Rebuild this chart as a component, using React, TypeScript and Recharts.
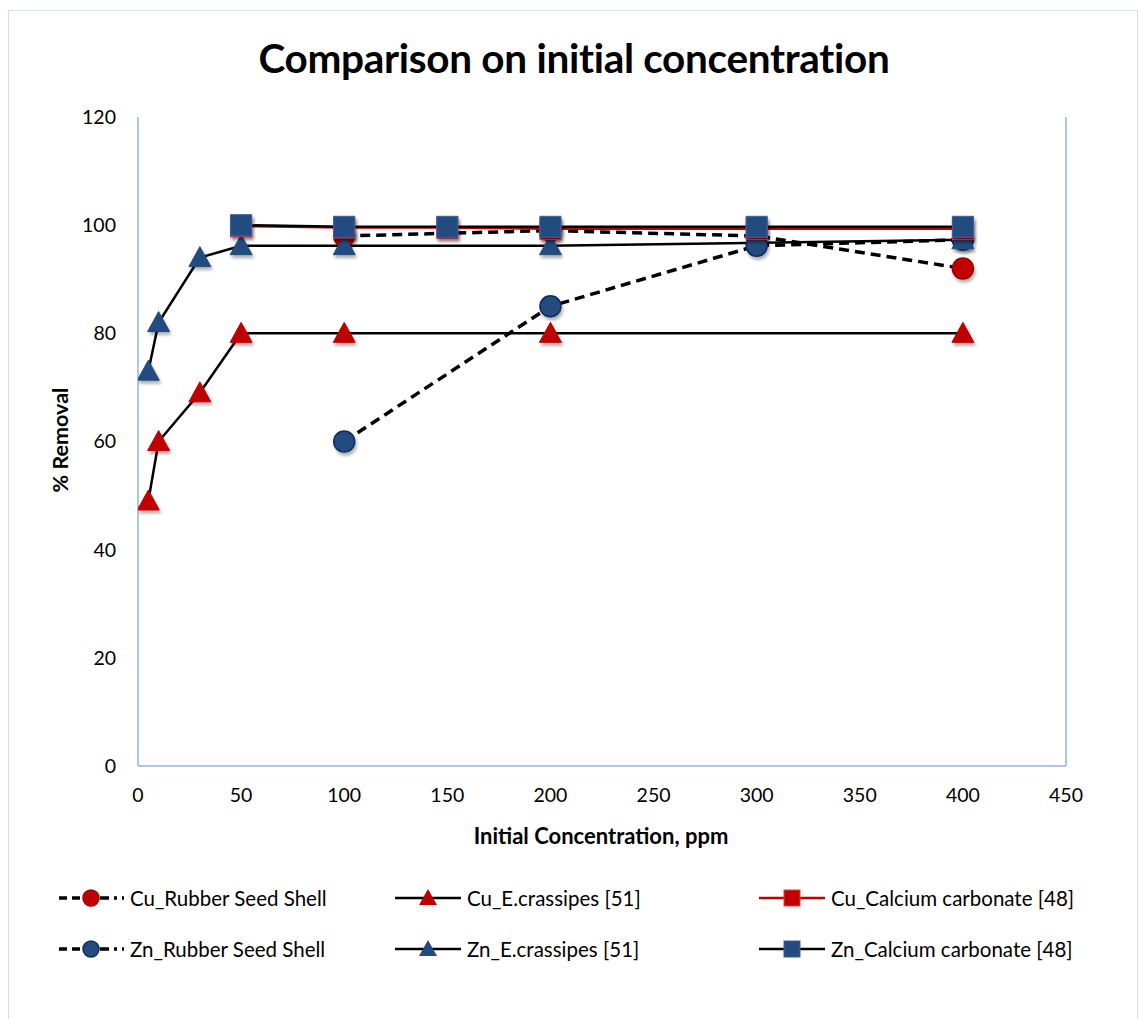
import React from "react";
import { LineChart, Line, XAxis, YAxis } from "recharts";

// x = initial concentration (ppm), y = % removal
const cuRubberX = [100, 200, 300, 400];
const cuRubberY = [98, 99, 98, 92];
const znRubberX = [100, 200, 300, 400];
const znRubberY = [60, 85, 96.2, 97.3];
const cuCrassX = [5, 10, 30, 50, 100, 200, 400];
const cuCrassY = [49, 60, 69, 80, 80, 80, 80];
const znCrassX = [5, 10, 30, 50, 100, 200, 400];
const znCrassY = [73, 82, 94, 96.2, 96.2, 96.2, 97.3];
const cuCaX = [50, 100, 150, 200, 300, 400];
const cuCaY = [99.8, 99.5, 99.5, 99.3, 99.3, 99.3];
const znCaX = [50, 100, 150, 200, 300, 400];
const znCaY = [100, 99.7, 99.7, 99.7, 99.7, 99.7];

const xTicks = [0, 50, 100, 150, 200, 250, 300, 350, 400, 450];
const yTicks = [0, 20, 40, 60, 80, 100, 120];

const RED = "#C00000";
const BLUE = "#234B80";
const BLUE_EDGE = "#0E2D5E";
const AXIS = "#8FB3E0";
const FONT = "Lato, 'Open Sans', sans-serif";

const toPoints = (xs: number[], ys: number[]) => xs.map((x, i) => ({ x, y: ys[i] }));

type Shape = "circle" | "triangle" | "square";

const marker = (shape: Shape, fill: string, stroke: string, cx: number, cy: number, key?: any) => {
  if (shape === "circle")
    return <circle key={key} cx={cx} cy={cy} r={10.5} fill={fill} stroke={stroke} strokeWidth={1.5} />;
  if (shape === "triangle")
    return (
      <polygon
        key={key}
        points={`${cx},${cy - 11} ${cx + 11},${cy + 9} ${cx - 11},${cy + 9}`}
        fill={fill}
        stroke={fill}
        strokeWidth={1}
      />
    );
  return <rect key={key} x={cx - 10.5} y={cy - 10.5} width={21} height={21} fill={fill} stroke={stroke} strokeWidth={1} />;
};

const makeDot = (shape: Shape, fill: string, stroke: string) => (props: any) => {
  const { cx, cy, index } = props;
  if (cx == null || cy == null) return <g key={`e-${index}`} />;
  return (
    <g key={`d-${index}`} filter="url(#mkShadow)">
      {marker(shape, fill, stroke, cx, cy)}
    </g>
  );
};

const series = [
  { name: "Cu_Rubber Seed Shell", data: toPoints(cuRubberX, cuRubberY), line: "#000", dash: true, shape: "circle" as Shape, fill: RED, edge: "#9A0000" },
  { name: "Zn_Rubber Seed Shell", data: toPoints(znRubberX, znRubberY), line: "#000", dash: true, shape: "circle" as Shape, fill: BLUE, edge: BLUE_EDGE },
  { name: "Cu_E.crassipes [51]", data: toPoints(cuCrassX, cuCrassY), line: "#000", dash: false, shape: "triangle" as Shape, fill: RED, edge: RED },
  { name: "Zn_E.crassipes [51]", data: toPoints(znCrassX, znCrassY), line: "#000", dash: false, shape: "triangle" as Shape, fill: BLUE, edge: BLUE },
  { name: "Cu_Calcium carbonate [48]", data: toPoints(cuCaX, cuCaY), line: RED, dash: false, shape: "square" as Shape, fill: RED, edge: "#E04040" },
  { name: "Zn_Calcium carbonate [48]", data: toPoints(znCaX, znCaY), line: "#000", dash: false, shape: "square" as Shape, fill: BLUE, edge: "#3A6298" },
];

// legend order as in the picture: row by row
const legendOrder = [0, 2, 4, 1, 3, 5];
const legendCols = [58, 395, 759];
const legendRows = [898, 949];

function LegendIcon({ s }: { s: (typeof series)[number] }) {
  return (
    <svg width={66} height={24} style={{ display: "block" }}>
      {s.dash ? (
        <>
          <line x1={1} y1={12} x2={24} y2={12} stroke="#000" strokeWidth={3.5} strokeDasharray="8 5" />
          <line x1={42} y1={12} x2={66} y2={12} stroke="#000" strokeWidth={3.5} strokeDasharray="9 5 3 5" />
        </>
      ) : (
        <line x1={0} y1={12} x2={66} y2={12} stroke={s.line} strokeWidth={2.5} />
      )}
      {s.shape === "circle" && <circle cx={33} cy={12} r={8} fill={s.fill} stroke={s.edge} strokeWidth={1.5} />}
      {s.shape === "triangle" && <polygon points="33,3 42,19 24,19" fill={s.fill} />}
      {s.shape === "square" && <rect x={25} y={4} width={16} height={16} fill={s.fill} stroke={s.edge} strokeWidth={1} />}
    </svg>
  );
}

export default function App() {
  return (
    <div style={{ position: "absolute", left: 0, top: 0, width: 1140, height: 1019, background: "#fff", fontFamily: FONT }}>
      <div
        style={{
          position: "absolute",
          left: 8,
          top: 10,
          width: 1130,
          height: 1020,
          border: "1.5px solid #D5E0EF",
          boxSizing: "border-box",
        }}
      />
      <div
        style={{
          position: "absolute",
          left: 0,
          width: 1148,
          top: 33,
          textAlign: "center",
          fontSize: 40.5,
          fontWeight: 700,
          color: "#000",
          letterSpacing: -0.3,
        }}
      >
        Comparison on initial concentration
      </div>
      <div style={{ position: "absolute", left: 0, top: 0 }}>
        <LineChart width={1140} height={1019} margin={{ top: 117, left: 78, right: 14, bottom: 223 }}>
          <defs>
            <filter id="mkShadow" x="-50%" y="-50%" width="200%" height="200%">
              <feDropShadow dx={1.5} dy={3} stdDeviation={1.8} floodColor="#000" floodOpacity={0.3} />
            </filter>
          </defs>
          <XAxis
            type="number"
            dataKey="x"
            domain={[0, 450]}
            ticks={xTicks}
            allowDataOverflow
            stroke={AXIS}
            strokeWidth={1.5}
            tickLine={false}
            tickSize={0}
            tickMargin={22}
            height={30}
            tick={{ fill: "#000", fontSize: 19.5, fontFamily: FONT }}
          />
          <YAxis
            yAxisId="left"
            type="number"
            domain={[0, 120]}
            ticks={yTicks}
            stroke={AXIS}
            strokeWidth={1.5}
            tickLine={false}
            tickSize={0}
            tickMargin={22}
            width={60}
            tick={{ fill: "#000", fontSize: 19.5, fontFamily: FONT }}
          />
          <YAxis
            yAxisId="right"
            orientation="right"
            type="number"
            domain={[0, 120]}
            ticks={yTicks}
            stroke={AXIS}
            strokeWidth={1.5}
            tickSize={6}
            tickMargin={14}
            width={60}
            tick={{ fill: "#000", fontSize: 19.5, fontFamily: FONT }}
          />
          {series.map((s) => (
            <Line
              key={s.name}
              yAxisId="left"
              data={s.data}
              dataKey="y"
              name={s.name}
              type="linear"
              stroke={s.line}
              strokeWidth={s.dash ? 3.5 : s.line === RED ? 2 : 2.5}
              strokeDasharray={s.dash ? "10 6" : undefined}
              dot={makeDot(s.shape, s.fill, s.edge)}
              activeDot={false}
              isAnimationActive={false}
            />
          ))}
        </LineChart>
      </div>
      <div
        style={{
          position: "absolute",
          left: 60,
          top: 440,
          transform: "translate(-50%, -50%) rotate(-90deg)",
          fontSize: 21.5,
          fontWeight: 700,
          whiteSpace: "nowrap",
        }}
      >
        % Removal
      </div>
      <div
        style={{
          position: "absolute",
          left: 601,
          top: 835,
          transform: "translate(-50%, -50%)",
          fontSize: 22,
          fontWeight: 700,
          whiteSpace: "nowrap",
        }}
      >
        Initial Concentration, ppm
      </div>
      {legendOrder.map((si, i) => {
        const s = series[si];
        const col = i % 3;
        const row = Math.floor(i / 3);
        return (
          <div
            key={s.name}
            style={{
              position: "absolute",
              left: legendCols[col],
              top: legendRows[row] - 12,
              height: 24,
              display: "flex",
              alignItems: "center",
              whiteSpace: "nowrap",
            }}
          >
            <LegendIcon s={s} />
            <span style={{ marginLeft: 6, fontSize: 20.5, color: "#000" }}>{s.name}</span>
          </div>
        );
      })}
    </div>
  );
}
